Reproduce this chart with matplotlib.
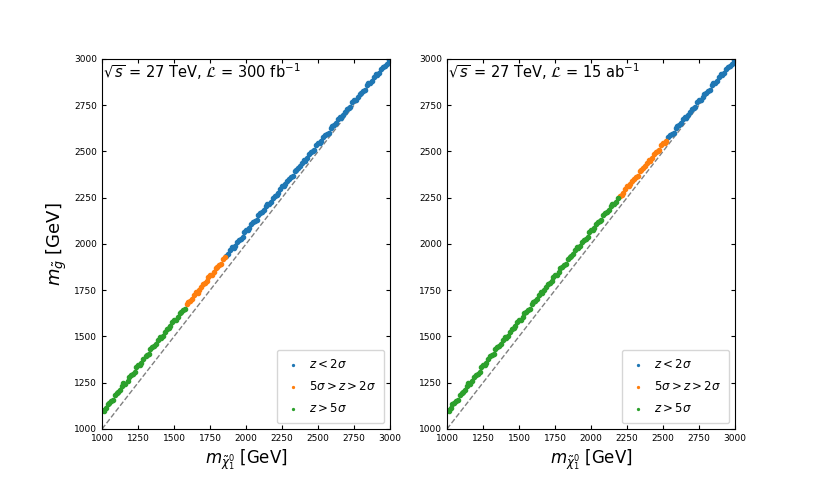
# -*- coding: utf-8 -*-
import matplotlib
matplotlib.use("Agg")
import matplotlib.pyplot as plt
import numpy as np

# scan points (neutralino mass, gluino mass) in GeV
m_chi = [1003, 1026, 1051, 1074, 1102, 1125, 1148, 1177, 1199, 1226,
         1251, 1273, 1302, 1324, 1349, 1376, 1401, 1423, 1452, 1474,
         1498, 1527, 1549, 1576, 1600, 1623, 1651, 1675, 1702, 1726,
         1748, 1777, 1799, 1824, 1852, 1873, 1901, 1925, 1949, 1976,
         2002, 2024, 2051, 2073, 2098, 2127, 2149, 2176, 2201, 2223,
         2252, 2274, 2299, 2326, 2348, 2377, 2400, 2425, 2451, 2473,
         2502, 2524, 2549, 2576, 2598, 2627, 2650, 2674, 2701, 2725,
         2748, 2777, 2799, 2826, 2850, 2872, 2901, 2924, 2949, 2976,
         1014, 1038, 1062, 1088, 1113, 1136, 1162, 1188, 1212, 1238,
         1262, 1287, 1313, 1336, 1362, 1388, 1412, 1437, 1463, 1486,
         1512, 1538, 1562, 1588, 1611, 1637, 1663, 1688, 1714, 1737,
         1762, 1788, 1811, 1838, 1862, 1887, 1913, 1937, 1962, 1989,
         2013, 2037, 2062, 2085, 2112, 2138, 2162, 2188, 2212, 2237,
         2263, 2286, 2312, 2337, 2362, 2388, 2412, 2438, 2462, 2487,
         2513, 2536, 2562, 2587, 2612, 2638, 2662, 2687, 2713, 2736,
         2762, 2788, 2812, 2838, 2861, 2886, 2912, 2936, 2962, 2990]
m_gluino = [1100, 1112, 1143, 1156, 1197, 1213, 1246, 1260, 1291, 1310,
            1347, 1357, 1392, 1404, 1441, 1461, 1496, 1503, 1540, 1554,
            1589, 1607, 1634, 1650, 1687, 1702, 1740, 1749, 1784, 1799,
            1832, 1849, 1877, 1891, 1931, 1944, 1982, 1990, 2022, 2040,
            2076, 2086, 2118, 2129, 2166, 2186, 2218, 2229, 2262, 2274,
            2314, 2323, 2353, 2368, 2402, 2422, 2455, 2463, 2497, 2509,
            2548, 2558, 2587, 2602, 2636, 2655, 2688, 2695, 2729, 2743,
            2776, 2792, 2818, 2833, 2868, 2881, 2919, 2925, 2956, 2973,
            1098, 1133, 1152, 1185, 1200, 1231, 1244, 1279, 1298, 1334,
            1345, 1380, 1400, 1431, 1447, 1480, 1490, 1525, 1544, 1577,
            1591, 1626, 1644, 1677, 1690, 1723, 1735, 1770, 1789, 1821,
            1833, 1868, 1886, 1920, 1933, 1965, 1977, 2010, 2028, 2063,
            2074, 2107, 2126, 2156, 2172, 2204, 2214, 2249, 2265, 2299,
            2311, 2343, 2363, 2394, 2408, 2440, 2450, 2484, 2500, 2534,
            2546, 2578, 2597, 2628, 2641, 2673, 2682, 2716, 2733, 2765,
            2777, 2810, 2828, 2859, 2870, 2902, 2913, 2944, 2962, 2995]

# reach in neutralino mass for each luminosity
titles = [r"$\sqrt{s}$ = 27 TeV, $\mathcal{L}$ = 300 fb$^{-1}$",
          r"$\sqrt{s}$ = 27 TeV, $\mathcal{L}$ = 15 ab$^{-1}$"]
reach_5sigma = [1583, 2190]
reach_2sigma = [1860, 2530]
ticks = [1000, 1250, 1500, 1750, 2000, 2250, 2500, 2750, 3000]

x = np.array(m_chi)
y = np.array(m_gluino)

fig = plt.figure(figsize=(8.17, 4.91), dpi=100)
axes = [fig.add_axes([0.1249, 0.1263, 0.3525, 0.7536]),
        fig.add_axes([0.5471, 0.1263, 0.3525, 0.7536])]

for i, ax in enumerate(axes):
    low = x >= reach_2sigma[i]
    mid = (x >= reach_5sigma[i]) & (x < reach_2sigma[i])
    high = x < reach_5sigma[i]
    ax.plot([1000, 3000], [1000, 3000], "--", color="gray", lw=1, zorder=1)
    ax.scatter(x[low], y[low], s=9, color="C0", label=r"$z < 2\sigma$", zorder=2)
    ax.scatter(x[mid], y[mid], s=9, color="C1", label=r"$5\sigma > z > 2\sigma$", zorder=2)
    ax.scatter(x[high], y[high], s=9, color="C2", label=r"$z > 5\sigma$", zorder=2)
    ax.set_xlim(1000, 3000)
    ax.set_ylim(1000, 3000)
    ax.set_xticks(ticks)
    ax.set_yticks(ticks)
    ax.tick_params(direction="in", top=True, right=True, labelsize=6.5, length=3)
    ax.text(0.005, 0.995, titles[i], transform=ax.transAxes, ha="left", va="top", fontsize=10.5)
    ax.set_xlabel(r"$m_{\tilde{\chi}_1^0}$ [GeV]", fontsize=12, labelpad=3)
    ax.legend(loc="lower right", fontsize=8.5, markerscale=0.45, handlelength=1.4,
              handletextpad=0.6, borderpad=0.7, labelspacing=0.75)

axes[0].set_ylabel(r"$m_{\tilde{g}}$ [GeV]", fontsize=13)

plt.savefig("out.png", dpi=100)
